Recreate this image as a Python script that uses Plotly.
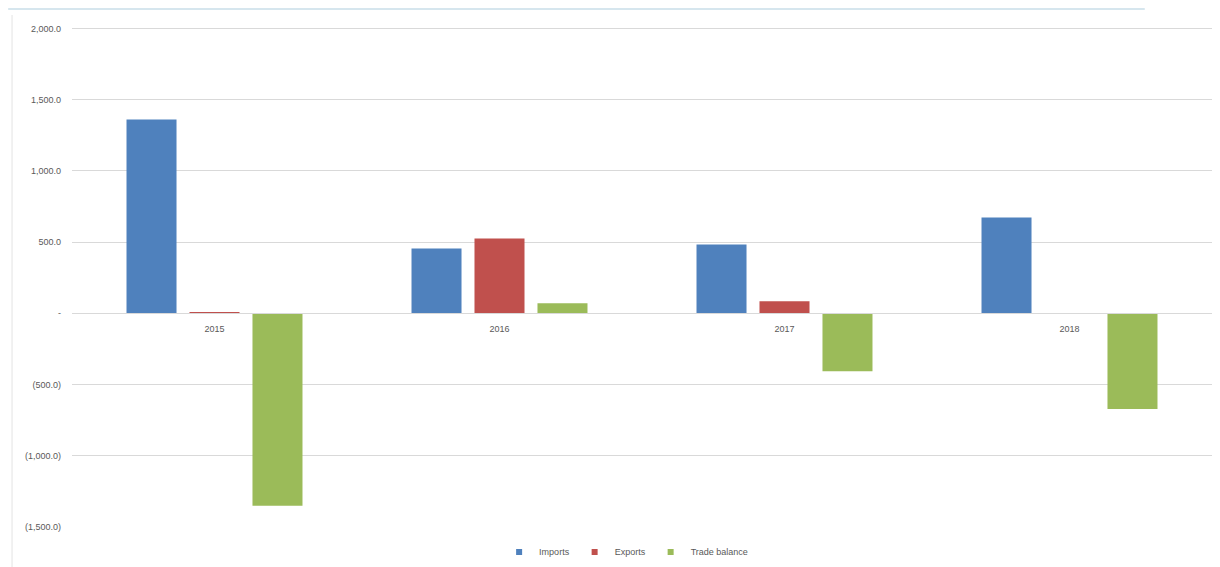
import plotly.graph_objects as go

anos = ["2015", "2016", "2017", "2018"]
imports = [1360, 455, 483, 672]
exports = [10, 525, 84, 2]
trade_balance = [-1350, 70, -406, -672]

tick_vals = [2000, 1500, 1000, 500, 0, -500, -1000, -1500]
tick_text = ["2,000.0", "1,500.0", "1,000.0", "500.0", "-", "(500.0)", "(1,000.0)", "(1,500.0)"]

cores = {"Imports": "#4F81BD", "Exports": "#C0504D", "Trade balance": "#9BBB59"}

fig = go.Figure()
for nome, valores in [("Imports", imports), ("Exports", exports), ("Trade balance", trade_balance)]:
    fig.add_trace(go.Bar(x=anos, y=valores, name=nome, marker_color=cores[nome],
                         marker_line_width=0, showlegend=False))
    # marcador pequeno só para a legenda
    fig.add_trace(go.Scatter(x=[None], y=[None], mode="markers", name=nome,
                             marker=dict(symbol="square", size=6, color=cores[nome])))

# a página tem 8px de margem no body, por isso a figura é um pouco menor
fig.update_layout(
    barmode="group", bargap=0.337, bargroupgap=0.206,
    width=1212, height=559,
    margin=dict(l=64, r=8, t=19, b=40),
    plot_bgcolor="white", paper_bgcolor="white",
    font=dict(family="Liberation Sans, Arial", size=9, color="#595959"),
    legend=dict(orientation="h", x=0.51, xanchor="center", xref="container",
                y=0.027, yanchor="middle", yref="container",
                font=dict(size=9, color="#595959"), itemwidth=30, tracegroupgap=0),
    showlegend=True,
)

y_min, y_max = -1500, 2010
fig.update_yaxes(range=[y_min, y_max], tickvals=tick_vals, ticktext=tick_text, automargin=False,
                 showgrid=True, gridcolor="#D9D9D9", gridwidth=1,
                 zeroline=False, showline=False, ticks="", ticklabelstandoff=10)
fig.update_xaxes(anchor="free", position=-y_min / (y_max - y_min), showline=True, linecolor="#D9D9D9",
                 automargin=False, showgrid=False, ticks="", ticklabelstandoff=7,
                 tickfont=dict(size=9, color="#595959"))

# moldura da imagem original
fig.add_shape(type="line", xref="paper", yref="paper", x0=-0.056, x1=0.941, y0=1.036, y1=1.036,
              line=dict(color="#D6E6EE", width=2))
fig.add_shape(type="line", xref="paper", yref="paper", x0=-0.0526, x1=-0.0526, y0=1.024, y1=-0.08,
              line=dict(color="#E3E3E3", width=1))

fig.write_html("out.html")
